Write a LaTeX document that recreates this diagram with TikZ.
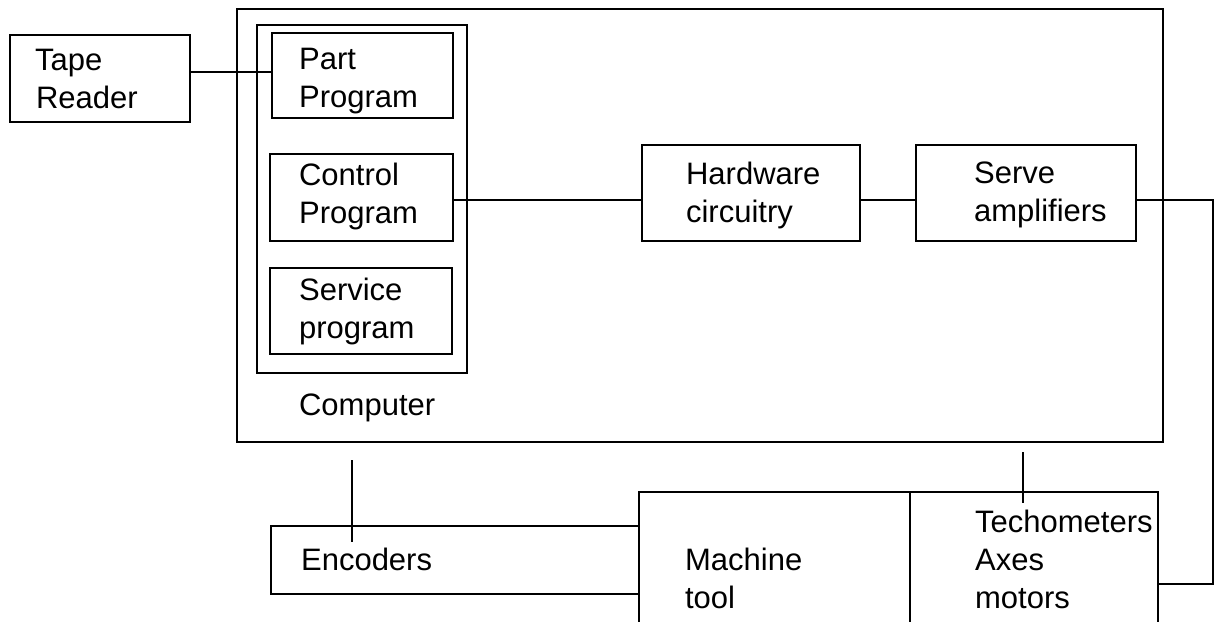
\documentclass[tikz,border=0pt]{standalone}
\usepackage{fontspec}
\setmainfont{Liberation Sans}
\begin{document}
\begin{tikzpicture}[x=1pt,y=-1pt,line width=2.2pt,
  box/.style={draw,line width=2.2pt,rectangle,inner sep=0pt},
  lbl/.style={anchor=base west,inner sep=0pt,font=\fontsize{31}{38}\selectfont},
  wire/.style={draw,line width=2.2pt},
  thinwire/.style={draw,line width=1.8pt}]
\useasboundingbox (0,0) rectangle (1217,621);
\clip (0,0) rectangle (1217,621);
% boxes
\node[box,minimum width=180pt,minimum height=87pt] (tape) at (100,78.5) {};
\node[box,minimum width=926pt,minimum height=433pt] (comp) at (700,225.5) {};
\node[box,minimum width=210pt,minimum height=348pt] (grp) at (362,199) {};
\node[box,minimum width=181pt,minimum height=85pt] (part) at (362.5,75.5) {};
\node[box,minimum width=183pt,minimum height=87pt] (ctrl) at (361.5,197.5) {};
\node[box,minimum width=182pt,minimum height=86pt] (serv) at (361,311) {};
\node[box,minimum width=218pt,minimum height=96pt] (hw) at (751,193) {};
\node[box,minimum width=220pt,minimum height=96pt] (sa) at (1026,193) {};
\node[box,minimum width=368pt,minimum height=68pt] (enc) at (455,560) {};
% open-bottom boxes
\coordinate (mtbl) at (639,640);
\coordinate (mttl) at (639,492);
\coordinate (mttr) at (910,492);
\coordinate (mtbr) at (910,640);
\coordinate (tctr) at (1158,492);
\coordinate (tcbr) at (1158,640);
\draw[wire] (mtbl) -- (mttl) -- (mttr) -- (mtbr);
\draw[wire] (mttr) -- (tctr) -- (tcbr);
% labels
\node[lbl] (t1) at (34,70) {Tape};
\node[lbl] (t2) at (35,108) {Reader};
\node[lbl] (p1) at (298,69) {Part};
\node[lbl] (p2) at (298,107) {Program};
\node[lbl] (c1) at (298,185) {Control};
\node[lbl] (c2) at (298,223) {Program};
\node[lbl] (s1) at (298,300) {Service};
\node[lbl] (s2) at (298,338) {program};
\node[lbl] (cp) at (298,415) {Computer};
\node[lbl] (h1) at (685,184) {Hardware};
\node[lbl] (h2) at (685,222) {circuitry};
\node[lbl] (a1) at (973,183) {Serve};
\node[lbl] (a2) at (973,221) {amplifiers};
\node[lbl] (e1) at (300,570) {Encoders};
\node[lbl] (m1) at (684,570) {Machine};
\node[lbl] (m2) at (684,608) {tool};
\node[lbl] (k1) at (974,532) {Techometers};
\node[lbl] (k2) at (974,570) {Axes};
\node[lbl] (k3) at (974,608) {motors};
% connectors
\draw[wire] (tape.east |- 0,72) -- (part.west |- 0,72);
\draw[wire] (ctrl.east |- 0,200) -- (hw.west |- 0,200);
\draw[wire] (hw.east |- 0,200) -- (sa.west |- 0,200);
\coordinate (rt) at (1213,200);
\coordinate (rb) at (1213,584);
\draw[wire] (sa.east |- rt) -- (rt) -- (rb) -- (tcbr |- rb);
\coordinate (enctop) at (352,460);
\coordinate (encbot) at (352,542);
\draw[thinwire] (enctop) -- (encbot);
\coordinate (tctop) at (1023,452);
\coordinate (tcbot) at (1023,503);
\draw[thinwire] (tctop) -- (tcbot);
\end{tikzpicture}
\end{document}
